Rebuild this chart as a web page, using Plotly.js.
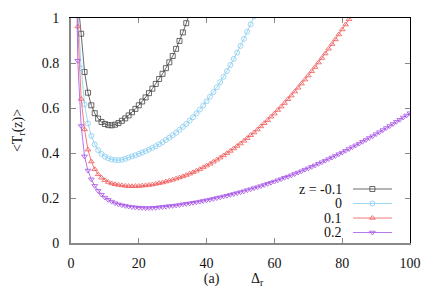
<!DOCTYPE html>
<html>
<head>
<meta charset="utf-8">
<script src="https://cdn.plot.ly/plotly-3.0.1.min.js"></script>
<style>
html,body{margin:0;padding:0;background:#fff;}
#chart{width:436px;height:305px;}
</style>
</head>
<body>
<div id="chart"></div>
<script>
// Δ_r grid (shared abscissa)
const delta = [1,2,3,4,5,6,7,8,9,10,11,12,13,14,15,16,17,18,19,20,
  21,22,23,24,25,26,27,28,29,30,31,32,33,34,35,36,37,38,39,40,
  41,42,43,44,45,46,47,48,49,50,51,52,53,54,55,56,57,58,59,60,
  61,62,63,64,65,66,67,68,69,70,71,72,73,74,75,76,77,78,79,80,
  81,82,83,84,85,86,87,88,89,90,91,92,93,94,95,96,97,98,99,100];

const seriesNames = ['z = -0.1', '0', '0.1', '0.2'];

// <T_r(z)> for z = -0.1
const tZm01 = [1.50,1.08,0.930,0.760,0.668,0.612,0.577,0.553,0.538,0.529,
  0.524,0.523,0.526,0.533,0.543,0.554,0.567,0.581,0.596,0.612,
  0.629,0.647,0.666,0.686,0.707,0.729,0.752,0.777,0.803,0.831,
  0.863,0.898,0.936,0.977,1.021,1.066];

// z = 0
const tZ0 = [1.60,1.03,0.776,0.616,0.531,0.476,0.438,0.413,0.396,0.384,
  0.376,0.371,0.369,0.368,0.370,0.374,0.380,0.385,0.390,0.396,
  0.402,0.408,0.415,0.423,0.430,0.439,0.448,0.458,0.468,0.479,
  0.490,0.503,0.516,0.529,0.544,0.559,0.576,0.593,0.611,0.630,
  0.650,0.671,0.692,0.715,0.739,0.764,0.791,0.818,0.846,0.876,
  0.907,0.939,0.972,1.007,1.043];

// z = 0.1
const tZ01 = [2.00,0.962,0.640,0.505,0.415,0.362,0.328,0.305,0.290,0.279,
  0.271,0.265,0.261,0.258,0.256,0.254,0.253,0.252,0.253,0.253,
  0.255,0.256,0.258,0.260,0.263,0.266,0.269,0.273,0.277,0.281,
  0.286,0.291,0.296,0.302,0.308,0.314,0.321,0.328,0.336,0.344,
  0.352,0.361,0.370,0.379,0.389,0.399,0.409,0.420,0.431,0.442,
  0.454,0.466,0.479,0.491,0.504,0.518,0.532,0.546,0.561,0.575,
  0.591,0.606,0.622,0.639,0.655,0.673,0.690,0.708,0.726,0.744,
  0.763,0.782,0.802,0.822,0.842,0.863,0.884,0.905,0.927,0.949,
  0.971,0.994,1.017];

// z = 0.2
const tZ02 = [1.80,0.810,0.520,0.385,0.322,0.283,0.254,0.232,0.215,0.202,
  0.192,0.184,0.177,0.172,0.168,0.165,0.162,0.160,0.158,0.157,
  0.156,0.155,0.155,0.156,0.157,0.159,0.160,0.162,0.164,0.165,
  0.167,0.169,0.172,0.174,0.176,0.179,0.181,0.184,0.187,0.190,
  0.193,0.196,0.200,0.203,0.207,0.210,0.214,0.218,0.222,0.226,
  0.230,0.235,0.239,0.244,0.248,0.253,0.258,0.263,0.268,0.273,
  0.279,0.284,0.290,0.295,0.301,0.307,0.313,0.319,0.326,0.332,
  0.339,0.345,0.352,0.359,0.366,0.373,0.380,0.387,0.395,0.402,
  0.410,0.418,0.426,0.434,0.442,0.450,0.458,0.467,0.475,0.484,
  0.493,0.502,0.511,0.520,0.529,0.539,0.548,0.558,0.567,0.577];

const xTicks = [0, 20, 40, 60, 80, 100];
const yTicks = [0, 0.2, 0.4, 0.6, 0.8, 1];

const seriesValues = [tZm01, tZ0, tZ01, tZ02];
const colors = ['#444444', '#86cbf0', '#f05858', '#a452e6'];
const symbols = ['square-open', 'circle-open', 'triangle-up-open', 'triangle-down-open'];

const FONT = 'Liberation Serif';
const FS = 14;
const traces = [];
seriesValues.forEach((vals, i) => {
  traces.push({
    x: delta.slice(0, vals.length), y: vals,
    type: 'scatter', mode: 'lines+markers', name: seriesNames[i],
    line: {color: colors[i], width: 0.8},
    marker: {symbol: symbols[i], size: 5, color: colors[i], line: {width: 0.8, color: colors[i]}},
    showlegend: false, hoverinfo: 'skip'
  });
});
// frame axes (top/right)
traces.push({x: [], y: [], xaxis: 'x2', yaxis: 'y2', showlegend: false, hoverinfo: 'skip'});

// gnuplot-style key (label right-aligned, sample to the right)
const keyRows = [0.24, 0.1756, 0.111, 0.0467];
const keyX0 = 0.832, keyX1 = 0.947, keyXm = 0.889, keyTextX = 0.803;
const annotations = [];
seriesNames.forEach((nm, i) => {
  traces.push({x: [keyX0, keyX1], y: [keyRows[i], keyRows[i]], xaxis: 'x3', yaxis: 'y3',
    mode: 'lines', line: {color: colors[i], width: 0.8}, showlegend: false, hoverinfo: 'skip'});
  traces.push({x: [keyXm], y: [keyRows[i]], xaxis: 'x3', yaxis: 'y3', mode: 'markers',
    marker: {symbol: symbols[i], size: 5, color: colors[i], line: {width: 0.8, color: colors[i]}},
    showlegend: false, hoverinfo: 'skip', cliponaxis: false});
  annotations.push({text: nm, xref: 'paper', yref: 'paper', x: keyTextX, y: keyRows[i],
    xanchor: 'right', yanchor: 'middle', showarrow: false, borderpad: 0,
    font: {family: FONT, size: FS, color: '#111'}});
});

const layout = {
  width: 436, height: 305,
  margin: {l: 71, r: 26, t: 18, b: 62},
  paper_bgcolor: '#fff', plot_bgcolor: '#fff',
  showlegend: false,
  font: {family: FONT, size: FS, color: '#111'},
  xaxis: {
    range: [0, 100], tickvals: xTicks, ticks: 'inside', ticklen: 5, tickcolor: '#888',
    showline: true, linecolor: '#888', linewidth: 2, showgrid: false, zeroline: false,
    ticklabelstandoff: 6, tickfont: {family: FONT, size: FS, color: '#111'},
    title: {text: '(a)&nbsp;&nbsp;&nbsp;&nbsp;&nbsp;&nbsp;&nbsp;&nbsp;&nbsp;Δ<sub>r</sub>&nbsp;&nbsp;&nbsp;&nbsp;',
      font: {family: FONT, size: FS, color: '#111'}, standoff: 3}
  },
  yaxis: {
    range: [0, 1], tickvals: yTicks, ticks: 'inside', ticklen: 5, tickcolor: '#888',
    showline: true, linecolor: '#888', linewidth: 2, showgrid: false, zeroline: false,
    ticklabelstandoff: 7, tickfont: {family: FONT, size: FS, color: '#111'},
    title: {text: '&lt;T<sub>r</sub>(z)&gt;', font: {family: FONT, size: FS, color: '#111'}, standoff: 16}
  },
  xaxis2: {overlaying: 'x', matches: 'x', side: 'top', tickvals: xTicks, ticks: 'inside', ticklen: 5,
    tickcolor: '#888', showticklabels: false, showline: true, linecolor: '#000', linewidth: 1,
    showgrid: false, zeroline: false},
  yaxis2: {overlaying: 'y', matches: 'y', side: 'right', tickvals: yTicks, ticks: 'inside', ticklen: 5,
    tickcolor: '#888', showticklabels: false, showline: true, linecolor: '#000', linewidth: 1,
    showgrid: false, zeroline: false},
  xaxis3: {overlaying: 'x', range: [0, 1], visible: false, fixedrange: true},
  yaxis3: {overlaying: 'y', range: [0, 1], visible: false, fixedrange: true},
  annotations: annotations
};

Plotly.newPlot('chart', traces, layout, {displayModeBar: false, staticPlot: true});
</script>
</body>
</html>
